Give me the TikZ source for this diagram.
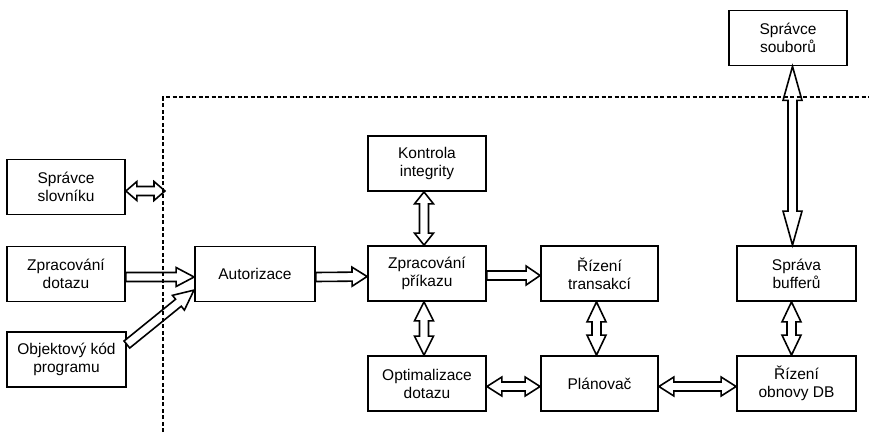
\documentclass[tikz,border=0pt]{standalone}
\usepackage{fontspec}
\setmainfont{Liberation Sans}
\usetikzlibrary{decorations.markings,calc}

% half widths of the block arrows: shaft and head
\newcommand\shaftw{4.5}
\newcommand\headw{9.5}

\tikzset{
  box/.style={draw, line width=1.8pt, minimum width=118pt, minimum height=55pt,
    inner sep=0pt, align=center, font=\fontsize{15.5}{18}\selectfont},
  arrowline/.style={draw=black, fill=white, line width=1.6pt, line join=miter},
  % hollow block arrow with one head, #1 = head length
  onearrow/.style={decorate, decoration={markings, mark=at position 0 with {%
    \pgfmathsetmacro\arrlen{\pgfdecoratedpathlength}%
    \path[arrowline] (0,\shaftw) -- ({\arrlen-#1},\shaftw) -- ({\arrlen-#1},\headw)
      -- (\arrlen,0) -- ({\arrlen-#1},-\headw) -- ({\arrlen-#1},-\shaftw)
      -- (0,-\shaftw) -- cycle;}}},
  onearrow/.default=16,
  % hollow block arrow with heads at both ends, #1 = head length
  twoarrow/.style={decorate, decoration={markings, mark=at position 0 with {%
    \pgfmathsetmacro\arrlen{\pgfdecoratedpathlength}%
    \path[arrowline] (0,0) -- (#1,\headw) -- (#1,\shaftw) -- ({\arrlen-#1},\shaftw)
      -- ({\arrlen-#1},\headw) -- (\arrlen,0) -- ({\arrlen-#1},-\headw)
      -- ({\arrlen-#1},-\shaftw) -- (#1,-\shaftw) -- (#1,-\headw) -- cycle;}}},
  twoarrow/.default=15,
  boundary/.style={line width=1.5pt, dash pattern=on 4pt off 2.5pt},
}

\begin{document}
\begin{tikzpicture}[x=1pt, y=-1pt]
\useasboundingbox (0,0) rectangle (869,432);

% outside the boundary
\node[box] (slov) at (66,187) {Správce\\slovníku};
\node[box] (dotaz) at (66,274) {Zpracování\\dotazu};
\node[box, minimum width=119pt] (obj) at (66.5,359.5) {Objektový kód\\programu};
\node[box] (soub) at (788,38) {Správce\\souborů};

% inside the boundary
\node[box, minimum width=120pt] (auto) at (255,274) {Autorizace};
\node[box] (kontr) at (427,163.5) {Kontrola\\integrity};
\node[box] (prikaz) at (427,273.5) {Zpracování\\příkazu};
\node[box] (optim) at (427,383.5) {Optimalizace\\dotazu};
\node[box, minimum width=117pt] (rizeni) at (599.5,273.5) {Řízení\\transakcí};
\node[box, minimum width=117pt] (plan) at (599.5,383.5) {Plánovač};
\node[box, minimum width=119pt] (buff) at (796.5,273.5) {Správa\\bufferů};
\node[box, minimum width=119pt] (obnova) at (796.5,383.5) {Řízení\\obnovy DB};

% the dashed boundary
\coordinate (bbot) at (163,432);
\coordinate (bcorner) at (163,97);
\coordinate (bend) at (869,97);
\coordinate (slovend) at (165,191);
% ends of the long link between the buffers and the file manager
\coordinate (bufftop) at ($(buff.north)+(-4,0)$);
\coordinate (soubbot) at (soub.south -| bufftop);

% connectors
\path[twoarrow=11] ($(slov.east)+(0,4)$) -- (slovend);
\path[onearrow=18] ($(dotaz.east)+(0,3)$) -- ($(auto.west)+(0,3)$);
\path[onearrow=20] ($(obj.east)+(0,-15)$) -- ($(auto.west)+(0,16)$);
\path[onearrow=15] ($(auto.east)+(0,3)$) -- ($(prikaz.west)+(0,3)$);
\path[onearrow=14] ($(prikaz.east)+(0,2)$) -- ($(rizeni.west)+(0,2)$);
\path[twoarrow=12] ($(kontr.south)+(-3,0)$) -- ($(prikaz.north)+(-3,0)$);
\path[twoarrow=19] ($(prikaz.south)+(-3,0)$) -- ($(optim.north)+(-3,0)$);
\path[twoarrow=15] ($(optim.east)+(0,3)$) -- ($(plan.west)+(0,3)$);
\path[twoarrow=15] ($(plan.east)+(0,3)$) -- ($(obnova.west)+(0,3)$);
\path[twoarrow=20] ($(rizeni.south)+(-3,0)$) -- ($(plan.north)+(-3,0)$);
\path[twoarrow=20] ($(buff.south)+(-5,0)$) -- ($(obnova.north)+(-5,0)$);
\path[twoarrow=34] (bufftop) -- (soubbot);

\draw[boundary] (bbot) -- (bcorner) -- (bend);
\end{tikzpicture}
\end{document}
